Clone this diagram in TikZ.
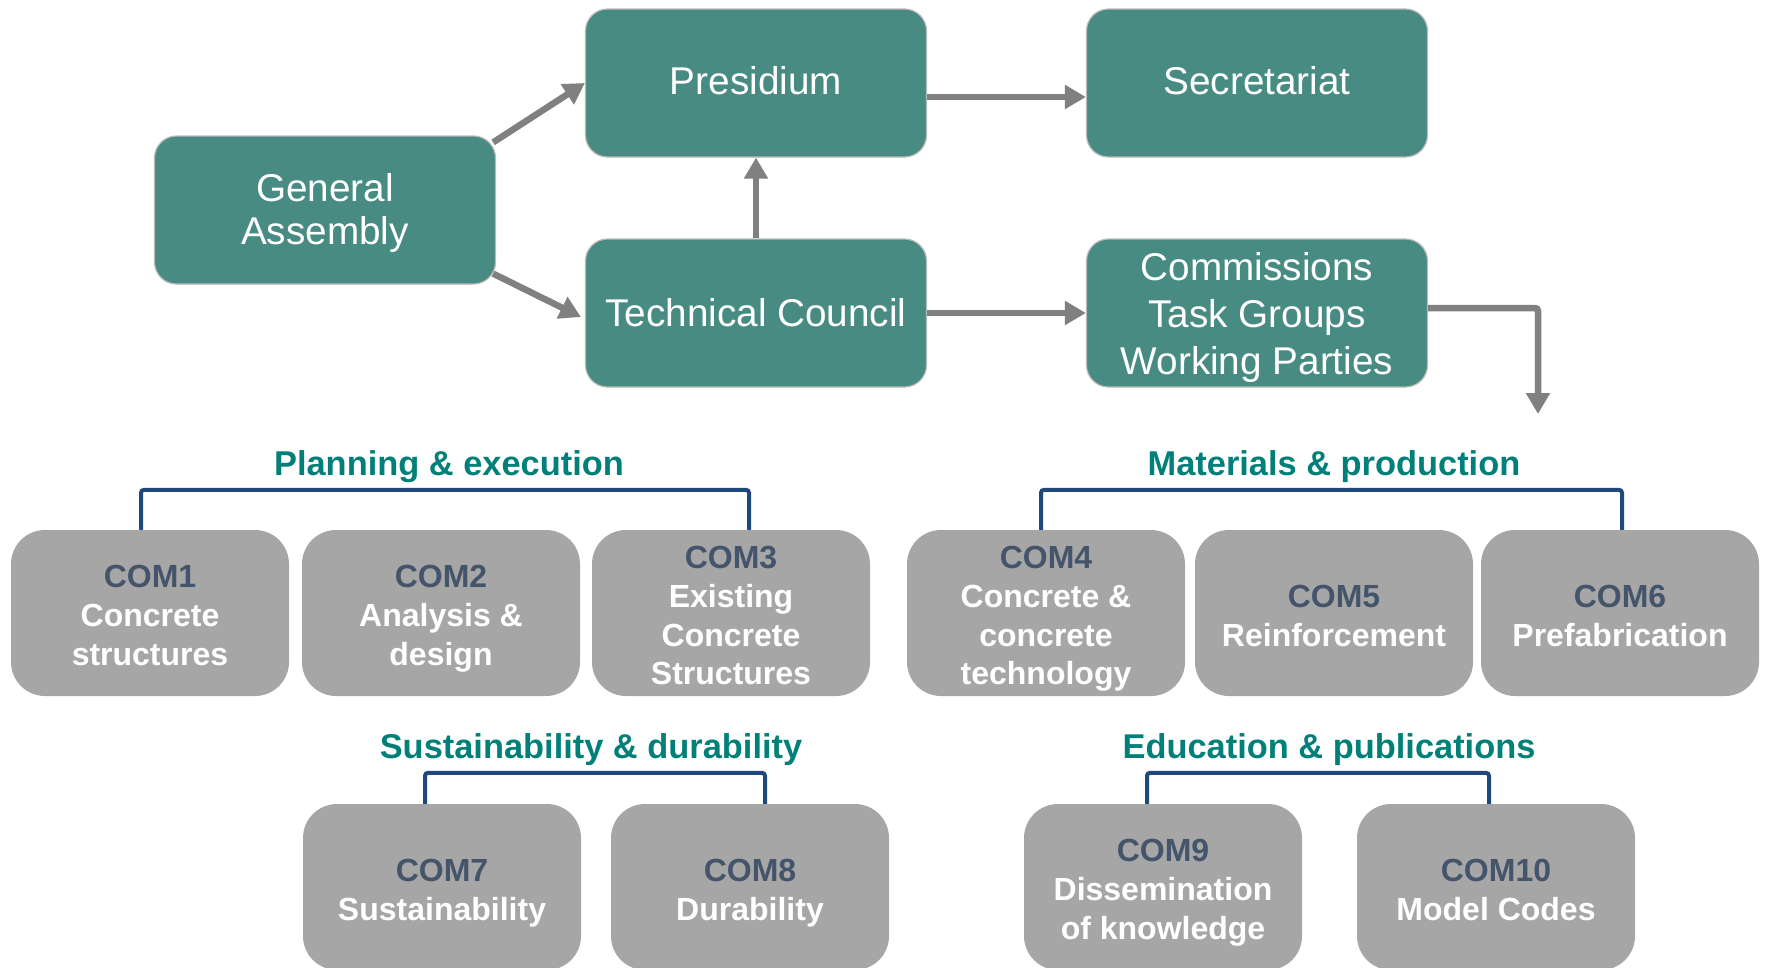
\documentclass[tikz,border=0pt]{standalone}
\usepackage{fontspec}
\setmainfont{Liberation Sans}
\usetikzlibrary{arrows.meta,calc}
\definecolor{teal1}{RGB}{72,139,131}
\definecolor{boxgrey}{RGB}{166,166,166}
\definecolor{comblue}{RGB}{68,84,106}
\definecolor{titleteal}{RGB}{0,128,120}
\definecolor{brackblue}{RGB}{31,73,125}
\definecolor{arrowgrey}{RGB}{128,128,128}
\tikzset{
  topbox/.style={rectangle, rounded corners=22pt, fill=teal1, draw=gray!55, line width=1.2pt,
    minimum width=341pt, minimum height=148pt, text=white, align=center, inner sep=0pt,
    text depth=0pt, font=\fontsize{38.7}{47}\selectfont},
  combox/.style={rectangle, rounded corners=34pt, fill=boxgrey, minimum width=278pt,
    minimum height=166pt, text=white, align=center, inner sep=0pt, text depth=0pt,
    font=\bfseries\fontsize{32}{38.8}\selectfont},
  grouptitle/.style={text=titleteal, inner sep=0pt, text depth=0pt,
    font=\bfseries\fontsize{34.4}{40}\selectfont},
  arr/.style={draw=arrowgrey, line width=6.5pt, -{Triangle[length=21pt,width=23pt]}},
  brk/.style={draw=brackblue, line width=4pt, rounded corners=3pt}
}
\newcommand{\cm}[1]{{\rule{0pt}{27.5pt}\color{comblue}#1}}
\begin{document}
\begin{tikzpicture}[x=1pt,y=-1pt]
\useasboundingbox (0,0) rectangle (1765,967);
\clip (0,0) rectangle (1765,967);

% top boxes
\node[topbox, text depth=2pt, font=\fontsize{38.7}{43}\selectfont] (ga) at (325,210) {General\\Assembly};
\node[topbox, text depth=4.5pt] (pres) at (756,83) {Presidium};
\node[topbox, text depth=4.5pt] (sec) at (1257,83) {Secretariat};
\node[topbox, text depth=2pt] (tc) at (756,313) {Technical Council};
\node[topbox] (comm) at (1257,313) {Commissions\\Task Groups\\Working Parties};

% arrows
\draw[arr] ([xshift=-3pt,yshift=-7pt]ga.north east) -- (pres.west);
\draw[arr] ([xshift=-3pt,yshift=11pt]ga.south east) -- ([xshift=-4pt,yshift=-4pt]tc.west);
\draw[arr] (tc.north) -- (pres.south);
\draw[arr] ([yshift=-14pt]pres.east) -- ([yshift=-14pt]sec.west);
\draw[arr] (tc.east) -- (comm.west);
\coordinate (cend) at (1538,414);
\draw[arr, rounded corners=3pt] ([yshift=5pt]comm.east) -| (cend);

% row 1
\node[combox] (com1) at (150,613) {\cm{COM1}\\Concrete\\structures};
\node[combox] (com2) at (441,613) {\cm{COM2}\\Analysis \&\\design};
\node[combox] (com3) at (731,613) {\cm{COM3}\\Existing\\Concrete\\Structures};
\node[combox] (com4) at (1046,613) {\cm{COM4}\\Concrete \&\\concrete\\technology};
\node[combox] (com5) at (1334,613) {\cm{COM5}\\Reinforcement};
\node[combox] (com6) at (1620,613) {\cm{COM6}\\Prefabrication};

% row 2
\node[combox] (com7) at (442,887) {\cm{COM7}\\Sustainability};
\node[combox] (com8) at (750,887) {\cm{COM8}\\Durability};
\node[combox] (com9) at (1163,887) {\cm{COM9}\\Dissemination\\of knowledge};
\node[combox] (com10) at (1496,887) {\cm{COM10}\\Model Codes};

% titles
\node[grouptitle] (t1) at (449,463) {Planning \& execution};
\node[grouptitle] (t2) at (1334,463) {Materials \& production};
\node[grouptitle] (t3) at (591,746) {Sustainability \& durability};
\node[grouptitle] (t4) at (1329,746) {Education \& publications};

% brackets
\draw[brk] ([xshift=-9pt]com1.north) -- ++(0,-40) -| ([xshift=18pt]com3.north);
\draw[brk] ([xshift=-5pt]com4.north) -- ++(0,-40) -| ([xshift=2pt]com6.north);
\draw[brk] ([xshift=-17pt]com7.north) -- ++(0,-31) -| ([xshift=15pt]com8.north);
\draw[brk] ([xshift=-16pt]com9.north) -- ++(0,-31) -| ([xshift=-7pt]com10.north);
\end{tikzpicture}
\end{document}
